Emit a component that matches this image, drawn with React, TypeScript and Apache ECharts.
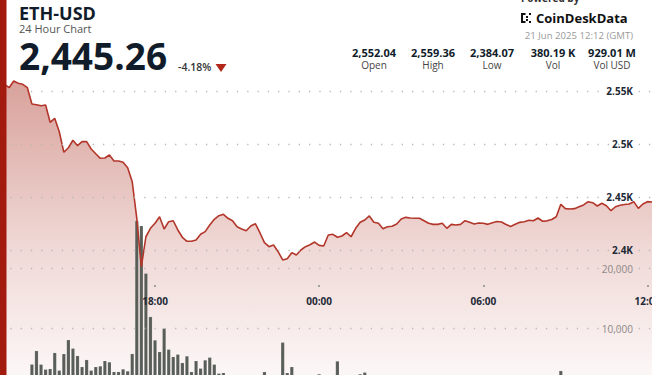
import React, { useEffect, useRef } from 'react';
import * as echarts from 'echarts';

const startTime = Date.UTC(2025, 5, 20, 12, 20);
const stepMs = 10 * 60 * 1000;

const priceValues = [
  2552.0,
  2556.3, 2553.1, 2559.4, 2557.3, 2556.3, 2553.1, 2537.7, 2537.1, 2536.1, 2536.8,
  2520.5, 2524.2, 2511.6, 2492.2, 2496.5, 2503.5, 2498.4, 2502.2, 2502.2, 2495.3,
  2490.8, 2486.5, 2486.8, 2489.6, 2484.0, 2484.0, 2482.7, 2477.6, 2464.4, 2429.9,
  2384.1, 2412.5, 2420.5, 2425.2, 2431.4, 2419.8, 2426.7, 2427.6, 2418.9, 2412.0,
  2408.2, 2408.2, 2409.4, 2414.8, 2417.3, 2423.6, 2429.0, 2432.4, 2433.7, 2429.9,
  2427.6, 2422.0, 2419.8, 2418.2, 2422.6, 2424.8, 2416.3, 2406.9, 2403.1, 2404.7,
  2398.4, 2390.6, 2391.8, 2397.5, 2395.3, 2400.0, 2403.1, 2405.0, 2407.5, 2404.4,
  2403.8, 2414.2, 2414.8, 2412.0, 2413.2, 2416.3, 2412.5, 2420.5, 2426.1, 2428.3,
  2432.1, 2426.1, 2425.2, 2420.1, 2422.0, 2422.4, 2424.5, 2429.2, 2430.8, 2430.2,
  2429.9, 2429.9, 2427.6, 2425.2, 2424.2, 2424.2, 2425.2, 2420.5, 2424.2, 2423.6,
  2424.2, 2427.6, 2426.1, 2424.5, 2425.5, 2425.2, 2424.2, 2425.7, 2426.9, 2426.4,
  2424.1, 2422.2, 2424.2, 2426.1, 2426.7, 2428.0, 2427.6, 2430.2, 2427.1, 2427.5,
  2428.8, 2431.4, 2443.1, 2439.0, 2438.7, 2439.0, 2440.8, 2442.5, 2445.6, 2444.6,
  2441.5, 2444.1, 2441.8, 2437.1, 2440.8, 2442.2, 2442.9, 2443.4, 2445.6, 2439.3,
  2443.4, 2445.6, 2445.26,
];

const volumeValues = [
  1500, 1800, 1200, 1600, 2000, 1400, 1900, 4030, 6300, 4030,
  3200, 3300, 5970, 3030, 5800, 8130, 6700, 5470, 3630, 4800,
  3030, 3630, 3750, 4630, 4420, 2800, 2800, 3250, 2920, 5800,
  27970, 27130, 19200, 11970, 8080, 6130, 10030, 6530, 5300, 5700,
  4300, 5420, 2800, 4630, 3370, 4750, 5200, 4030, 2530, 2630,
  1700, 1300, 1900, 1500, 1100, 1600, 1800, 1400, 2800, 1600,
  1200, 1900, 7700, 2630, 3630, 1500, 2000, 1300, 1700, 1100,
  2420, 1400, 1800, 1200, 4580, 1600, 1300, 1900, 1000, 2420,
  2700, 1500, 900, 1200, 1700, 800, 1100, 1400, 900, 1300,
  1000, 1600, 700, 1200, 1500, 900, 1100, 1300, 800, 1000,
  1400, 1200, 900, 1700, 1100, 800, 1300, 1000, 1500, 1200,
  900, 1400, 1100, 1600, 1000, 1300, 800, 1200, 1800, 1500,
  1100, 1400, 1900, 2970, 1600, 1200, 1500, 1000, 1300, 1700,
  1100, 900, 1400, 1200, 1600, 1000, 1300, 1500, 800, 1200,
  1100, 1400, 1000, 900,
];

const priceTicks = [2400, 2450, 2500, 2550];
const volumeTicks = [10000, 20000];
const timeTickValues = [
  Date.UTC(2025, 5, 20, 18, 0),
  Date.UTC(2025, 5, 21, 0, 0),
  Date.UTC(2025, 5, 21, 6, 0),
  Date.UTC(2025, 5, 21, 12, 0),
];
const timeTickLabels = ['18:00', '00:00', '06:00', '12:00'];
const statValues = ['2,552.04', '2,559.36', '2,384.07', '380.19 K', '929.01 M'];
const statLabels = ['Open', 'High', 'Low', 'Vol', 'Vol USD'];
const statCenters = [374, 433, 492, 553, 612];

const symbolName = 'ETH-USD';
const subtitle = '24 Hour Chart';
const lastPrice = '2,445.26';
const changePct = '-4.18%';
const dateText = '21 Jun 2025 12:12 (GMT)';

const FONT = '"Open Sans", "Noto Sans", sans-serif';

export default function App() {
  const ref = useRef<HTMLDivElement>(null);

  useEffect(() => {
    if (!ref.current) return;
    const chart = echarts.init(ref.current, undefined, { renderer: 'svg' });

    const times = priceValues.map((_, i) => startTime + i * stepMs);
    const priceData = priceValues.map((v, i) => [times[i], v]);
    const volData = volumeValues.map((v, i) => [times[i], v]);
    const xMin = times[0];
    const xMax = times[times.length - 1];

    const dotted = { color: '#b9b9b9', width: 1.3, type: [1.3, 9] as any };

    const graphic: any[] = [
      { type: 'rect', shape: { x: 0, y: 0, width: 6.5, height: 375 }, style: { fill: '#a31a0e' }, z: 100 },
      { type: 'text', x: 19, y: 12.5, style: { text: symbolName, fill: '#111c2b', font: `bold 18px ${FONT}`, verticalAlign: 'middle' } },
      { type: 'text', x: 19, y: 28.5, style: { text: subtitle, fill: '#555', font: `11px ${FONT}`, verticalAlign: 'middle' } },
      { type: 'text', x: 19, y: 55.5, style: { text: lastPrice, fill: '#111c2b', font: `bold 37px ${FONT}`, verticalAlign: 'middle' } },
      { type: 'text', x: 178, y: 66.5, style: { text: changePct, fill: '#333', font: `600 10.5px ${FONT}`, verticalAlign: 'middle' } },
      { type: 'polygon', shape: { points: [[215.5, 64], [226.5, 64], [221, 72]] }, style: { fill: '#b3261a' } },
      { type: 'text', x: 521, y: -2, style: { text: 'Powered by', fill: '#333', font: `bold 10px ${FONT}`, verticalAlign: 'middle' } },
      { type: 'rect', shape: { x: 521, y: 13, width: 2, height: 10 }, style: { fill: '#111' } },
      { type: 'rect', shape: { x: 521, y: 13, width: 4.5, height: 2 }, style: { fill: '#111' } },
      { type: 'rect', shape: { x: 521, y: 21, width: 4.5, height: 2 }, style: { fill: '#111' } },
      { type: 'rect', shape: { x: 526, y: 16, width: 2, height: 2 }, style: { fill: '#111' } },
      { type: 'rect', shape: { x: 526, y: 19, width: 2, height: 2 }, style: { fill: '#111' } },
      { type: 'rect', shape: { x: 529, y: 13, width: 2, height: 2 }, style: { fill: '#111' } },
      { type: 'rect', shape: { x: 529, y: 21, width: 2, height: 2 }, style: { fill: '#111' } },
      { type: 'text', x: 536, y: 17.5, style: { text: 'CoinDeskData', fill: '#111', font: `bold 13px ${FONT}`, verticalAlign: 'middle' } },
      { type: 'text', x: 633, y: 35, style: { text: dateText, fill: '#9a9a9a', font: `9.6px ${FONT}`, align: 'right', verticalAlign: 'middle' } },
    ];
    statValues.forEach((v, i) => {
      graphic.push({ type: 'text', x: statCenters[i], y: 52, style: { text: v, fill: '#111c2b', font: `bold 11px ${FONT}`, align: 'center', verticalAlign: 'middle' } });
      graphic.push({ type: 'text', x: statCenters[i], y: 65, style: { text: statLabels[i], fill: '#444', font: `10px ${FONT}`, align: 'center', verticalAlign: 'middle' } });
    });

    const hiddenX = (gridIndex: number) => ({
      type: 'value', gridIndex, min: xMin, max: xMax, show: false, splitLine: { show: false },
    });

    chart.setOption({
      animation: false,
      backgroundColor: '#ffffff',
      grid: [
        { left: 0, right: 0, top: 38, height: 371, outerBoundsMode: 'none' },
        { left: 0, right: 0, top: 208.5, height: 180, outerBoundsMode: 'none' },
        { left: 0, right: 0, top: 0, height: 285, outerBoundsMode: 'none' },
      ],
      xAxis: [
        hiddenX(0),
        hiddenX(1),
        {
          type: 'value', gridIndex: 2, min: xMin, max: xMax, z: 20,
          axisLine: { show: false },
          axisTick: { show: true, length: 2, lineStyle: { color: '#8a8a8a', width: 1.5 }, customValues: timeTickValues },
          splitLine: { show: false },
          axisLabel: {
            customValues: timeTickValues,
            margin: 11, color: '#1f2a37', fontWeight: 'bold', fontSize: 10, fontFamily: FONT,
            formatter: (v: number) => {
              const i = timeTickValues.indexOf(v);
              return i >= 0 ? timeTickLabels[i] : '';
            },
          },
        },
      ],
      yAxis: [
        {
          type: 'value', gridIndex: 0, position: 'right', min: 2250, max: 2600, interval: 50, z: 20,
          axisLine: { show: false }, axisTick: { show: false }, splitLine: { show: false },
          axisLabel: {
            inside: true, margin: 19, color: '#1f2a37', fontWeight: 'bold', fontSize: 10, fontFamily: FONT,
            formatter: (v: number) => (priceTicks.includes(Math.round(v)) ? v / 1000 + 'K' : ''),
          },
        },
        {
          type: 'value', gridIndex: 1, position: 'right', min: 0, max: 30000, interval: 10000, z: 20,
          axisLine: { show: false }, axisTick: { show: false }, splitLine: { show: false },
          axisLabel: {
            inside: true, margin: 19, color: '#8f8787', fontSize: 10, fontFamily: FONT,
            formatter: (v: number) => (volumeTicks.includes(Math.round(v)) ? v.toLocaleString('en-US') : ''),
          },
        },
        { type: 'value', gridIndex: 2, show: false, splitLine: { show: false } },
      ],
      series: [
        {
          type: 'line', xAxisIndex: 0, yAxisIndex: 0, data: priceData, showSymbol: false, silent: true, z: 1,
          lineStyle: { width: 0 },
          areaStyle: {
            origin: 'start',
            color: new echarts.graphic.LinearGradient(0, 0, 0, 1, [
              { offset: 0, color: 'rgba(168,40,25,0.62)' },
              { offset: 0.5, color: 'rgba(168,40,25,0.26)' },
              { offset: 1, color: 'rgba(168,40,25,0.0)' },
            ]),
          },
          markLine: {
            silent: true, symbol: ['none', 'none'], label: { show: false }, lineStyle: dotted,
            data: priceTicks.map((v) => ({ yAxis: v })),
          },
        },
        {
          type: 'bar', xAxisIndex: 1, yAxisIndex: 1, data: volData, barWidth: 3.7, silent: true, z: 2,
          itemStyle: { color: '#585e57', borderColor: 'rgba(255,255,255,0.3)', borderWidth: 0.5 },
          markLine: {
            silent: true, symbol: ['none', 'none'], label: { show: false }, lineStyle: dotted,
            data: volumeTicks.map((v) => ({ yAxis: v })),
          },
        },
        {
          type: 'line', xAxisIndex: 0, yAxisIndex: 0, data: priceData, showSymbol: false, silent: true, z: 3,
          lineStyle: { color: '#b3362a', width: 1.6 },
        },
      ],
      graphic,
    });

    return () => chart.dispose();
  }, []);

  return (
    <div
      ref={ref}
      style={{ position: 'fixed', left: 0, top: 0, width: 652, height: 375, background: '#fff' }}
    />
  );
}
